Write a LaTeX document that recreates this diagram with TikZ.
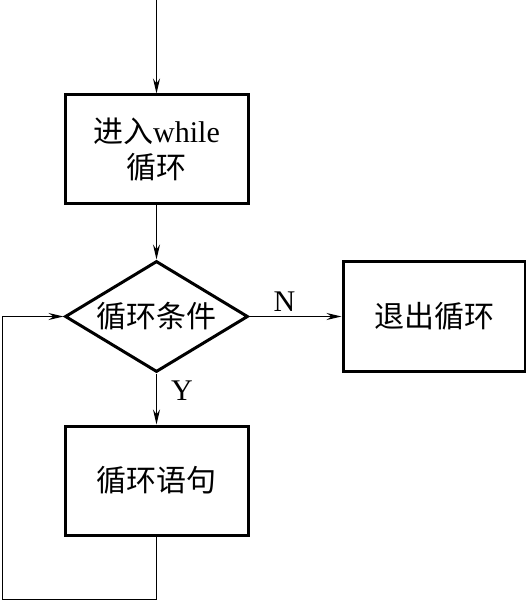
\documentclass[tikz,border=0pt]{standalone}
\usepackage{fontspec}
\setmainfont{Liberation Serif}
\newfontfamily\cjk{Noto Sans CJK SC}
\usetikzlibrary{positioning,shapes.geometric,arrows.meta}

\begin{document}
\begin{tikzpicture}[
  x=1pt, y=-1pt,
  blk/.style={rectangle, draw, line width=3pt, minimum width=183pt,
              minimum height=109pt, align=center, font=\fontsize{30}{36}\selectfont},
  dec/.style={diamond, aspect=1.65, draw, line width=3pt, minimum width=183pt,
              minimum height=111pt, inner sep=0pt, font=\fontsize{30}{36}\selectfont},
  e/.style={line width=1pt},
  arr/.style={e, -{Stealth[length=15pt, width=7pt, inset=5pt]}},
  lbl/.style={font=\fontsize{30}{36}\selectfont},
  node distance=54pt and 92pt
]
  \useasboundingbox (0,0) rectangle (526,601);
  % flow nodes
  \node[blk] (enter) at (156.5,149.5) {{\cjk 进入}while\\{\cjk 循环}};
  \node[dec, below=of enter] (cond) {\cjk 循环条件};
  \node[blk, right=of cond, minimum width=182pt, minimum height=110pt] (quit) {\cjk 退出循环};
  \node[blk, below=51pt of cond] (body) {\cjk 循环语句};
  % free ends
  \coordinate (start) at (156.5,0);
  \coordinate (back) at (2,599);

  \draw[arr] (start) -- (enter);
  \draw[arr] (enter) -- (cond);
  \draw[arr] (cond) -- node[lbl, above, pos=0.38, inner sep=5pt] {N} (quit);
  \draw[arr] (cond) -- node[lbl, right, pos=0.33, inner sep=14pt] {Y} (body);
  \draw[arr] (body) -- (body |- back) -- (back) |- (cond.west);
\end{tikzpicture}
\end{document}
